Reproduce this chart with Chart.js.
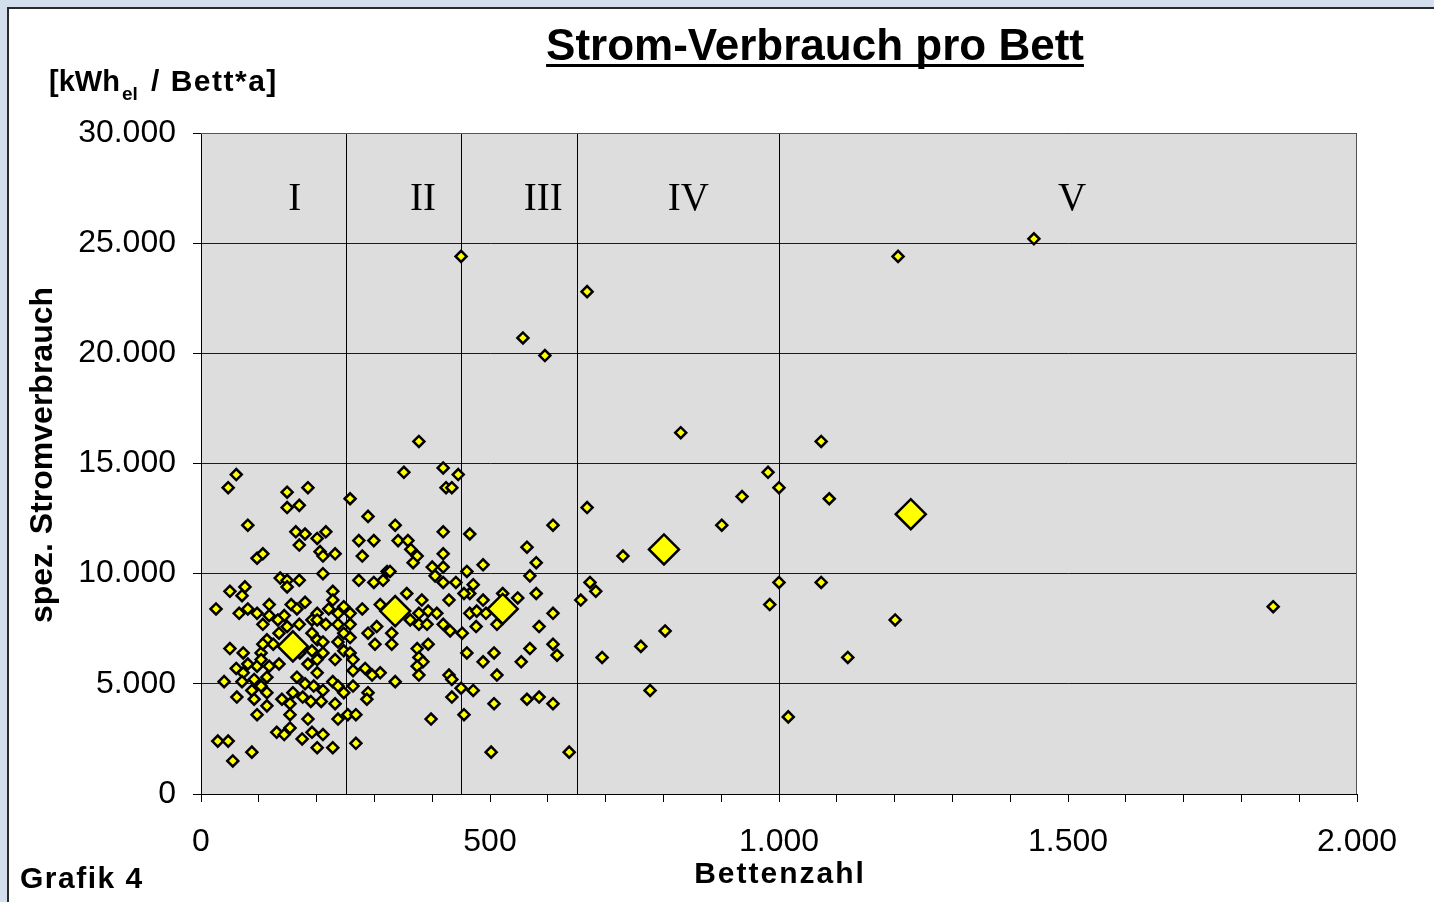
<!DOCTYPE html>
<html><head><meta charset="utf-8">
<script src="https://cdn.jsdelivr.net/npm/chart.js@4.4.1/dist/chart.umd.min.js"></script>
<style>html,body{margin:0;padding:0;background:#D4DFEE;overflow:hidden}canvas{display:block}</style>
</head><body><canvas id="c" width="1434" height="902"></canvas>
<script>
// Bettenzahl (beds) and spez. Stromverbrauch [kWh_el / Bett*a] per hotel
const beds = [61,47,149,185,149,170,81,164,180,201,216,170,97,107,206,211,232,211,137,149,170,149,50,76,71,228,228,26,66,81,97,118,156,166,144,180,201,221,237,247,
258,289,336,273,299,279,273,299,315,322,258,279,310,351,
118,107,133,149,170,192,201,216,237,258,289,304,330,301,330,50,73,104,135,114,125,107,192,201,211,237,247,258,247,258,263,263,171,192,201,211,185,201,232,
81,97,104,118,135,61,73,92,114,71,40,88,104,114,62,92,114,97,166,180,195,211,228,237,247,263,159,140,154,176,190,208,232,154,185,237,254,268,131,144,154,175,192,211,201,228,268,29,47,88,55,289,287,310,296,284,336,
377,419,445,424,434,419,465,609,668,341,358,363,374,367,419,564,580,488,460,400,419,405,327,419,441,471,569,673,683,356,382,429,465,455,488,522,548,580,657,
377,393,408,465,477,493,609,362,377,391,419,431,452,476,512,585,374,393,377,384,374,377,460,488,507,569,554,609,616,429,434,512,450,471,434,507,564,585,609,455,398,502,637,
450,668,557,595,830,730,694,761,803,777,901,936,981,1000,1073,1087,1000,1073,984,1201,1016,1119,1206,1441,1855];
const consumption = [14500,13900,13700,13900,13000,13100,12200,11900,11800,11600,11900,11300,10700,10900,11000,10800,10900,10000,9800,9700,9700,9400,9200,9400,9000,9200,8800,8400,8200,8400,8200,8600,8600,8400,8100,8700,8200,8400,8200,8500,
13400,12600,12200,11500,11500,10800,9700,9600,9700,10100,8200,8400,8600,14600,
8100,7700,7900,7600,7700,7900,7900,7700,7700,7700,7300,7600,7300,6800,6800,6600,6400,6400,7300,7000,6800,6800,7300,7000,6900,6900,7300,7100,6500,6400,6100,5600,6400,6500,6100,6400,5900,5500,6100,
5900,5800,6100,5800,5900,5700,5500,5200,5300,5100,5100,4700,4900,4600,4400,4300,4000,3600,5300,5000,4900,4700,5100,4900,4600,4900,4600,4300,4100,4400,4200,4200,4100,3600,3400,3400,3600,3600,2800,2700,3000,2500,2800,2700,2100,2100,2300,2400,2400,1900,1500,4600,4300,5500,5400,5700,5100,
16000,14800,14500,13900,13900,11900,11800,12200,13000,11500,11500,11100,10800,10500,10900,11200,10500,10400,10100,10300,10300,9900,10100,9600,9600,9500,9900,9600,9200,9100,8800,8800,9100,9100,8800,9100,8900,9100,8800,
8200,8300,8200,8200,8300,8200,8200,7900,7700,7700,7700,7400,7300,7600,7700,7600,6600,6800,6200,6000,5800,5400,6400,6000,6400,6600,6000,6800,6300,5400,5200,5400,4800,4700,4400,4100,4300,4400,4100,3600,3400,1900,1900,
24400,22800,20700,19900,16400,10800,6200,6700,7400,4700,12200,13500,14600,13900,16000,13400,9600,9600,8600,7900,3500,6200,24400,25200,8500];
// class means (large diamonds)
const classMeanBeds = [159,336,522,801,1228];
const classMeanConsumption = [6700,8300,8400,11100,12700];
// class boundaries and labels
const classBounds = [250,450,650,1000];
const classLabels = ['I','II','III','IV','V'];
const classLabelBeds = [162,384,592,843,1507];
const classLabelLevel = 26500;
// axes
const xMin = 0, xMax = 2000, xMinorStep = 100, xLabelStep = 500;
const yMin = 0, yMax = 30000, yStep = 5000;

const SANS = "'Liberation Sans', Arial, Helvetica, sans-serif";
const SERIF = "'Liberation Serif', 'Times New Roman', serif";
const fmt = v => String(v).replace(/\B(?=(\d{3})+(?!\d))/g, '.');

const points = beds.map((b, i) => ({x: b, y: consumption[i]}));
const means = classMeanBeds.map((b, i) => ({x: b, y: classMeanConsumption[i]}));

const decor = {
  id: 'decor',
  beforeDraw(chart) {
    const ctx = chart.ctx, a = chart.chartArea;
    ctx.save();
    ctx.fillStyle = '#D4DFEE';
    ctx.fillRect(0, 0, chart.width, chart.height);
    ctx.fillStyle = '#2a2a2a';
    ctx.fillRect(7, 7, chart.width, chart.height);
    ctx.fillStyle = '#FFFFFF';
    ctx.fillRect(9, 9, chart.width, chart.height);
    ctx.fillStyle = '#DDDDDD';
    ctx.fillRect(a.left, a.top, a.right - a.left, a.bottom - a.top);
    ctx.restore();
  },
  beforeDatasetsDraw(chart) {
    const ctx = chart.ctx, a = chart.chartArea, xs = chart.scales.x;
    ctx.save();
    ctx.strokeStyle = '#000';
    ctx.lineWidth = 1;
    classBounds.forEach(b => {
      const px = Math.round(xs.getPixelForValue(b)) + 0.5;
      ctx.beginPath(); ctx.moveTo(px, a.top); ctx.lineTo(px, a.bottom); ctx.stroke();
    });
    ctx.strokeStyle = '#555';
    ctx.beginPath();
    ctx.moveTo(a.left, a.top + 0.5); ctx.lineTo(Math.round(a.right) - 0.5, a.top + 0.5);
    ctx.lineTo(Math.round(a.right) - 0.5, a.bottom);
    ctx.stroke();
    ctx.fillStyle = '#000';
    ctx.font = '39px ' + SERIF;
    ctx.textAlign = 'center';
    ctx.textBaseline = 'alphabetic';
    classLabels.forEach((t, i) => {
      ctx.fillText(t, xs.getPixelForValue(classLabelBeds[i]), chart.scales.y.getPixelForValue(classLabelLevel));
    });
    ctx.restore();
  },
  afterDraw(chart) {
    const ctx = chart.ctx;
    ctx.save();
    ctx.fillStyle = '#000';
    ctx.textBaseline = 'alphabetic';
    // title
    ctx.font = 'bold 44px ' + SANS;
    ctx.textAlign = 'center';
    const title = 'Strom-Verbrauch pro Bett';
    ctx.fillText(title, 815, 60);
    const tw = ctx.measureText(title).width;
    ctx.fillRect(815 - tw / 2, 64, tw, 3);
    // unit label
    ctx.textAlign = 'left';
    ctx.font = 'bold 29px ' + SANS;
    ctx.fillText('[kWh', 49, 91);
    ctx.font = 'bold 19px ' + SANS;
    ctx.fillText('el', 122, 100);
    ctx.font = 'bold 30px ' + SANS;
    ctx.letterSpacing = '1.5px';
    ctx.fillText('/ Bett*a]', 151, 91);
    ctx.letterSpacing = '0px';
    // y title
    ctx.save();
    ctx.translate(52, 455);
    ctx.rotate(-Math.PI / 2);
    ctx.textAlign = 'center';
    ctx.font = 'bold 32px ' + SANS;
    ctx.fillText('spez. Stromverbrauch', 0, 0);
    ctx.restore();
    // x title
    ctx.textAlign = 'center';
    ctx.font = 'bold 30px ' + SANS;
    ctx.letterSpacing = '2px';
    ctx.fillText('Bettenzahl', 780, 883);
    // footer
    ctx.textAlign = 'left';
    ctx.letterSpacing = '1.5px';
    ctx.fillText('Grafik 4', 20, 888);
    ctx.restore();
  }
};

new Chart(document.getElementById('c'), {
  type: 'scatter',
  data: {
    datasets: [
      {label: 'Mittelwerte', data: means, pointStyle: 'rectRot', pointRadius: 15, pointHoverRadius: 15,
       backgroundColor: '#FFFF00', borderColor: '#000', borderWidth: 2.5},
      {label: 'Betriebe', data: points, pointStyle: 'rectRot', pointRadius: 5.5, pointHoverRadius: 5.5,
       backgroundColor: '#FFFF00', borderColor: '#000', borderWidth: 2.5}
    ]
  },
  options: {
    responsive: false, animation: false, devicePixelRatio: 1,
    layout: {padding: {top: 133, right: 77, left: 0, bottom: 0}},
    plugins: {legend: {display: false}, tooltip: {enabled: false}, title: {display: false}},
    scales: {
      x: {
        type: 'linear', min: xMin, max: xMax,
        afterFit: s => { s.height = 108; },
        ticks: {stepSize: xMinorStep, autoSkip: false, maxRotation: 0, padding: 21, color: '#000',
          font: {family: SANS, size: 32},
          callback: v => (v % xLabelStep === 0 ? fmt(v) : '')},
        grid: {drawOnChartArea: false, drawTicks: true, tickLength: 8, tickColor: '#000', tickWidth: 1},
        border: {display: true, color: '#000', width: 1}
      },
      y: {
        type: 'linear', min: yMin, max: yMax,
        afterFit: s => { s.width = 201; },
        ticks: {stepSize: yStep, padding: 17, color: '#000', font: {family: SANS, size: 32},
          callback: v => fmt(v)},
        grid: {color: '#1a1a1a', lineWidth: 1, drawTicks: true, tickLength: 8, tickColor: '#000'},
        border: {display: true, color: '#000', width: 1}
      }
    }
  },
  plugins: [decor]
});
</script>
</body></html>
